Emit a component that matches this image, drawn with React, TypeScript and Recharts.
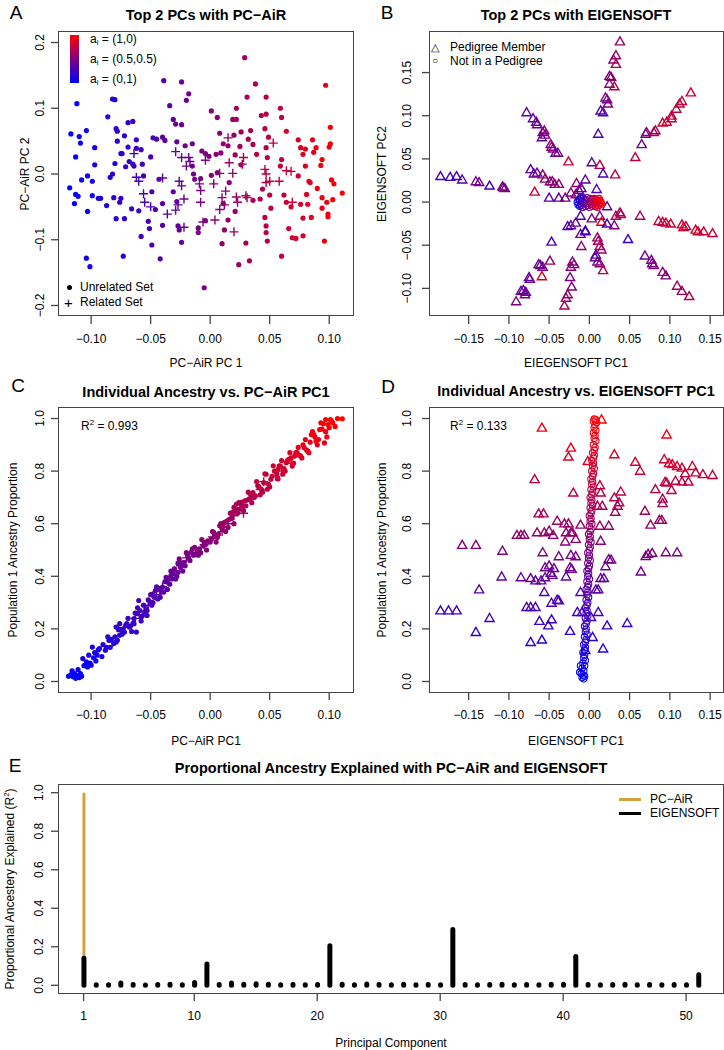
import React from "react";
import { ScatterChart, Scatter, XAxis, YAxis, BarChart, Bar } from "recharts";

const FONT = "'Liberation Sans', Arial, Helvetica, sans-serif";
const AXIS = "#444";

// ---------- panel A : PC-AiR PC1 vs PC2 ----------
const A_X_TICKS = [-0.1, -0.05, 0, 0.05, 0.1];
const A_Y_TICKS = [-0.2, -0.1, 0, 0.1, 0.2];
const A_UNRELATED = [
  [-0.118,-0.021],[-0.117,0.061],[-0.112,0.107],[-0.113,0.026],[-0.113,-0.031],[-0.111,-0.034],[-0.110,0.057],[-0.109,0.047],
  [-0.108,-0.009],[-0.114,-0.045],[-0.104,0.066],[-0.103,-0.003],[-0.103,-0.057],[-0.104,-0.128],[-0.101,-0.141],[-0.099,-0.011],
  [-0.097,0.040],[-0.097,0.014],[-0.099,-0.033],[-0.094,-0.037],[-0.092,-0.037],[-0.087,-0.048],[-0.086,0.087],[-0.084,-0.005],
  [-0.082,0.000],[-0.082,0.114],[-0.080,0.113],[-0.081,-0.036],[-0.080,0.016],[-0.079,0.069],[-0.078,0.065],[-0.079,-0.068],
  [-0.078,0.050],[-0.076,-0.043],[-0.075,0.031],[-0.075,-0.037],[-0.074,0.031],[-0.073,-0.125],[-0.072,0.058],[-0.072,-0.068],
  [-0.071,0.011],[-0.069,0.078],[-0.069,0.041],[-0.068,0.019],[-0.065,0.080],[-0.066,-0.053],[-0.065,0.015],[-0.064,0.012],
  [-0.062,0.052],[-0.062,0.039],[-0.060,-0.056],[-0.058,-0.095],[-0.058,0.037],[-0.057,0.015],[-0.056,-0.003],[-0.050,0.026],
  [-0.049,-0.027],[-0.052,-0.072],[-0.051,-0.083],[-0.049,-0.108],[-0.048,0.055],[-0.046,-0.054],[-0.045,0.053],[-0.043,-0.008],
  [-0.040,-0.045],[-0.042,-0.129],[-0.040,-0.078],[-0.040,0.056],[-0.039,0.142],[-0.038,0.051],[-0.034,0.104],[-0.031,0.083],
  [-0.029,0.076],[-0.028,0.049],[-0.028,-0.042],[-0.031,-0.027],[-0.027,-0.079],[-0.026,-0.085],[-0.024,-0.104],[-0.024,0.140],
  [-0.024,0.075],[-0.021,0.043],[-0.020,0.112],[-0.018,0.122],[-0.015,0.046],[-0.015,0.012],[-0.014,0.000],[-0.013,-0.008],
  [-0.010,-0.082],[-0.010,-0.089],[-0.008,-0.007],[-0.007,0.035],[-0.005,-0.173],[-0.004,0.031],[-0.004,-0.071],[-0.001,0.027],
  [0.001,0.096],[0.001,-0.002],[0.005,0.030],[0.006,0.086],[0.006,0.002],[0.008,0.062],[0.009,0.032],[0.011,0.046],
  [0.011,-0.045],[0.012,-0.085],[0.010,-0.106],[0.015,0.043],[0.016,-0.013],[0.015,-0.070],[0.019,0.083],[0.020,0.059],
  [0.021,0.029],[0.021,-0.057],[0.022,0.100],[0.022,0.083],[0.024,-0.138],[0.025,0.042],[0.026,0.014],[0.026,0.064],
  [0.030,-0.105],[0.029,0.177],[0.031,0.117],[0.032,0.053],[0.033,-0.132],[0.034,0.066],[0.036,0.045],[0.036,-0.040],
  [0.038,0.137],[0.039,0.030],[0.042,-0.038],[0.043,0.089],[0.046,0.069],[0.047,0.117],[0.047,0.091],[0.047,0.040],
  [0.048,0.025],[0.049,0.056],[0.044,-0.023],[0.046,-0.066],[0.047,-0.079],[0.047,-0.089],[0.048,-0.102],[0.050,-0.032],
  [0.051,-0.052],[0.059,0.100],[0.060,0.086],[0.060,-0.125],[0.059,0.012],[0.060,0.022],[0.062,-0.032],[0.064,0.065],
  [0.066,-0.083],[0.064,-0.043],[0.068,-0.050],[0.069,-0.097],[0.072,-0.098],[0.074,0.052],[0.074,-0.003],[0.076,0.040],
  [0.076,-0.046],[0.078,-0.067],[0.078,0.030],[0.078,-0.094],[0.080,0.038],[0.080,0.012],[0.081,-0.031],[0.082,-0.046],
  [0.083,-0.011],[0.084,-0.013],[0.085,-0.066],[0.086,0.052],[0.087,0.033],[0.089,0.040],[0.090,-0.022],[0.093,0.013],
  [0.094,-0.052],[0.094,-0.036],[0.094,0.022],[0.096,-0.102],[0.097,0.135],[0.098,-0.043],[0.099,-0.061],[0.099,-0.065],
  [0.100,0.041],[0.101,0.071],[0.101,0.046],[0.102,-0.009],[0.103,-0.039],[0.104,-0.015],[0.111,-0.029],
];
const A_RELATED = [
  [-0.064,0.031],[-0.062,-0.005],[-0.060,-0.011],[-0.056,-0.030],[-0.055,-0.043],[-0.050,-0.050],[-0.040,-0.006],[-0.036,-0.061],
  [-0.029,0.034],[-0.029,-0.055],[-0.027,-0.047],[-0.026,-0.011],[-0.024,-0.018],[-0.022,-0.038],[-0.022,-0.081],[-0.024,0.025],
  [-0.020,0.012],[-0.018,0.025],[-0.017,0.019],[-0.009,-0.015],[-0.008,-0.025],[-0.008,-0.043],[-0.006,-0.073],[-0.004,0.021],
  [0.003,-0.015],[0.004,-0.070],[0.008,0.001],[0.008,-0.054],[0.010,-0.036],[0.012,-0.047],[0.013,-0.026],[0.015,0.055],
  [0.016,0.017],[0.019,0.001],[0.020,-0.088],[0.022,-0.035],[0.023,-0.043],[0.027,0.015],[0.028,0.025],[0.030,-0.033],
  [0.031,-0.036],[0.046,0.007],[0.047,0.000],[0.047,-0.013],[0.050,-0.011],[0.053,0.047],[0.058,-0.011],[0.064,0.005],
  [0.068,0.004],[0.069,-0.043],
];

// ---------- panel B : EIGENSOFT PC1 vs PC2 (pc1, pc2, ancestry) ----------
const B_X_TICKS = [-0.15, -0.1, -0.05, 0, 0.05, 0.1, 0.15];
const B_Y_TICKS = [-0.1, -0.05, 0, 0.05, 0.1, 0.15];
const B_PEDIGREE = [
  [-0.185,0.030,0.27],[-0.173,0.029,0.27],[-0.165,0.030,0.27],[-0.158,0.026,0.35],[-0.141,0.024,0.45],[-0.137,0.023,0.45],
  [-0.124,0.019,0.24],[-0.108,0.018,0.5],[-0.107,0.017,0.5],[-0.105,0.016,0.45],
  [-0.078,0.104,0.35],[-0.070,0.097,0.35],[-0.066,0.093,0.45],[-0.065,0.090,0.4],[-0.058,0.081,0.5],[-0.056,0.083,0.55],
  [-0.059,0.075,0.35],[-0.055,0.078,0.5],[-0.048,0.067,0.5],[-0.047,0.064,0.55],[-0.045,0.062,0.5],[-0.042,0.057,0.4],
  [-0.039,0.057,0.45],
  [-0.073,0.038,0.35],[-0.069,0.033,0.4],[-0.065,0.034,0.45],[-0.058,0.032,0.55],[-0.055,0.027,0.6],[-0.049,0.024,0.55],
  [-0.046,0.024,0.5],[-0.043,0.021,0.6],[-0.038,0.021,0.55],[-0.068,0.012,0.8],[-0.050,0.005,0.35],[-0.038,0.005,0.4],
  [-0.030,0.005,0.45],[-0.026,0.047,0.8],[-0.023,0.011,0.55],[-0.017,0.009,0.6],[-0.016,0.022,0.6],[-0.013,0.014,0.5],
  [-0.005,0.026,0.35],[-0.010,0.016,0.35],
  [0.003,0.046,0.3],[0.013,0.043,0.7],[0.011,0.079,0.3],[0.017,0.033,0.3],[0.009,0.015,0.3],[0.032,0.032,0.75],
  [0.038,0.186,0.6],[0.033,0.170,0.6],[0.030,0.165,0.55],[0.033,0.160,0.65],[0.025,0.146,0.5],[0.027,0.145,0.55],
  [0.025,0.137,0.5],[0.031,0.134,0.7],[0.020,0.121,0.45],[0.022,0.119,0.5],[0.023,0.114,0.5],[0.014,0.106,0.3],[0.017,0.104,0.35],
  [0.126,0.127,0.8],[0.115,0.117,0.8],[0.112,0.114,0.78],[0.108,0.108,0.75],[0.102,0.100,0.75],[0.102,0.097,0.75],
  [0.096,0.093,0.8],[0.091,0.092,0.8],[0.082,0.083,0.65],[0.080,0.081,0.7],[0.071,0.081,0.55],[0.070,0.079,0.5],
  [0.065,0.067,0.45],[0.057,0.052,0.75],
  [0.063,-0.016,0.65],[0.086,-0.022,0.75],[0.091,-0.023,0.75],[0.095,-0.024,0.78],[0.101,-0.025,0.8],[0.115,-0.026,0.8],
  [0.117,-0.029,0.82],[0.120,-0.028,0.78],[0.132,-0.032,0.8],[0.135,-0.034,0.82],[0.142,-0.034,0.8],[0.153,-0.036,0.8],
  [0.038,-0.012,0.65],[0.039,-0.014,0.7],[0.033,-0.016,0.65],
  [0.069,-0.062,0.4],[0.077,-0.067,0.5],[0.078,-0.071,0.45],[0.080,-0.073,0.5],[0.091,-0.081,0.55],[0.095,-0.085,0.5],
  [0.109,-0.097,0.6],[0.115,-0.103,0.65],[0.124,-0.109,0.7],[0.048,-0.043,0.22],[0.022,-0.005,0.3],[0.013,-0.016,0.45],
  [0.015,-0.023,0.9],[0.031,-0.027,0.55],[0.022,-0.025,0.3],
  [0.010,-0.041,0.6],[0.011,-0.045,0.65],[0.013,-0.051,0.7],[0.015,-0.055,0.6],[0.008,-0.061,0.35],[0.007,-0.064,0.35],
  [0.010,-0.069,0.45],[0.013,-0.071,0.55],[0.017,-0.079,0.7],[0.003,-0.019,0.55],[-0.011,-0.037,0.4],[-0.005,-0.033,0.3],
  [-0.021,-0.069,0.5],[-0.019,-0.072,0.55],[-0.023,-0.075,0.55],[-0.024,-0.087,0.5],[-0.022,-0.098,0.5],[-0.027,-0.107,0.6],
  [-0.029,-0.111,0.6],[-0.031,-0.120,0.7],
  [-0.027,-0.028,0.3],[-0.023,-0.027,0.35],[-0.017,-0.024,0.45],[-0.011,-0.016,0.3],[-0.005,-0.034,0.25],[-0.047,-0.046,0.3],
  [-0.049,-0.068,0.55],[-0.061,-0.073,0.5],[-0.063,-0.072,0.35],[-0.058,-0.075,0.45],[-0.059,-0.086,0.85],[-0.075,-0.087,0.4],
  [-0.074,-0.089,0.45],[-0.082,-0.102,0.35],[-0.085,-0.103,0.4],[-0.079,-0.104,0.4],[-0.080,-0.107,0.45],[-0.091,-0.115,0.5],
  [-0.010,-0.051,0.55],
];
const B_NOT_PEDIGREE = [
  [-0.015,0.000,0.02],[-0.014,-0.003,0.05],[-0.013,0.003,0.08],[-0.012,-0.005,0.1],[-0.012,0.002,0.12],[-0.011,-0.002,0.15],
  [-0.010,0.004,0.18],[-0.010,-0.004,0.2],[-0.009,0.001,0.22],[-0.008,-0.006,0.25],[-0.008,0.005,0.28],[-0.007,-0.001,0.3],
  [-0.006,0.003,0.33],[-0.005,-0.005,0.36],[-0.005,0.002,0.38],[-0.004,-0.002,0.4],[-0.003,0.005,0.43],[-0.002,-0.004,0.46],
  [-0.001,0.001,0.5],[0.000,-0.006,0.52],[0.001,0.004,0.55],[0.002,-0.002,0.58],[0.003,0.003,0.6],[0.004,-0.005,0.63],
  [0.004,0.001,0.65],[0.005,-0.003,0.68],[0.006,0.004,0.7],[0.007,-0.001,0.73],[0.008,-0.005,0.76],[0.008,0.003,0.78],
  [0.009,-0.002,0.8],[0.010,0.002,0.83],[0.011,-0.004,0.86],[0.011,0.001,0.88],[0.012,-0.002,0.9],[0.013,0.002,0.93],
  [0.013,-0.003,0.95],[0.014,0.000,0.98],[0.015,-0.001,1.0],[0.012,0.004,0.92],[0.010,-0.006,0.84],[-0.011,0.005,0.16],
];

// ---------- panel C : ancestry vs PC-AiR PC1 ----------
const C_X_TICKS = [-0.1, -0.05, 0, 0.05, 0.1];
const C_Y_TICKS = [0, 0.2, 0.4, 0.6, 0.8, 1.0];
const C_UNRELATED = [
  [-0.119,0.02],[-0.117,0.025],[-0.115,0.018],[-0.114,0.03],[-0.113,0.012],[-0.112,0.022],[-0.111,0.045],[-0.110,0.015],
  [-0.108,0.02],[-0.107,0.087],[-0.106,0.06],[-0.105,0.062],[-0.104,0.075],[-0.103,0.055],[-0.101,0.07],[-0.100,0.062],
  [-0.099,0.131],[-0.098,0.09],[-0.097,0.11],[-0.096,0.078],[-0.093,0.125],[-0.088,0.119],[-0.085,0.157],[-0.081,0.144],
  [-0.078,0.157],[-0.079,0.207],[-0.076,0.176],[-0.072,0.188],[-0.071,0.213],[-0.068,0.207],[-0.065,0.22],[-0.064,0.239],
  [-0.062,0.188],[-0.060,0.308],[-0.061,0.258],[-0.058,0.245],[-0.055,0.264],[-0.054,0.277],[-0.053,0.251],[-0.050,0.302],
  [-0.048,0.333],[-0.046,0.346],[-0.044,0.314],[-0.041,0.340],[-0.040,0.359],[-0.037,0.396],[-0.036,0.378],[-0.033,0.403],
  [-0.032,0.39],[-0.030,0.428],[-0.027,0.415],[-0.026,0.466],[-0.025,0.434],[-0.022,0.453],[-0.019,0.479],[-0.016,0.491],
  [-0.015,0.504],[-0.012,0.485],[-0.009,0.504],[-0.006,0.516],[-0.005,0.529],[-0.002,0.535],[0.001,0.542],[0.003,0.567],
  [0.006,0.548],[0.008,0.592],[0.010,0.580],[0.012,0.605],[0.015,0.586],[0.016,0.617],[0.019,0.643],[0.020,0.662],
  [0.022,0.674],[0.024,0.655],[0.026,0.681],[0.029,0.687],[0.030,0.668],[0.033,0.693],[0.036,0.718],[0.038,0.706],
  [0.040,0.744],[0.043,0.731],[0.045,0.756],[0.047,0.788],[0.048,0.731],[0.051,0.769],[0.054,0.8],[0.057,0.807],
  [0.059,0.819],[0.061,0.788],[0.064,0.832],[0.066,0.845],[0.069,0.819],[0.071,0.857],[0.073,0.87],[0.076,0.857],
  [0.079,0.889],[0.082,0.876],[0.085,0.939],[0.087,0.939],[0.089,0.914],[0.092,0.958],[0.093,0.984],[0.096,0.907],
  [0.097,0.996],[0.099,0.977],[0.100,0.965],[0.101,0.996],[0.103,0.984],[0.111,0.999],
  [-0.095,0.1],[-0.09,0.14],[-0.087,0.13],[-0.083,0.16],[-0.08,0.17],[-0.077,0.2],[-0.074,0.18],[-0.07,0.22],
  [-0.067,0.21],[-0.063,0.26],[-0.059,0.27],[-0.057,0.25],[-0.052,0.31],[-0.049,0.29],[-0.047,0.32],[-0.043,0.35],
  [-0.039,0.34],[-0.035,0.39],[-0.034,0.37],[-0.031,0.41],[-0.028,0.4],[-0.024,0.45],[-0.021,0.44],[-0.018,0.47],
  [-0.014,0.48],[-0.011,0.5],[-0.008,0.49],[-0.004,0.52],[0.0,0.53],[0.004,0.55],[0.007,0.56],[0.011,0.59],
  [0.014,0.61],[0.018,0.62],[0.021,0.65],[0.023,0.64],[0.027,0.67],[0.031,0.69],[0.034,0.71],[0.037,0.7],
  [0.041,0.74],[0.044,0.72],[0.049,0.75],[0.052,0.78],[0.056,0.79],[0.058,0.82],[0.062,0.81],[0.065,0.84],
  [0.068,0.85],[0.072,0.87],[0.075,0.86],[0.078,0.9],[0.081,0.88],[0.084,0.91],[0.088,0.93],[0.091,0.92],
  [0.094,0.96],[0.097,0.95],[0.102,0.99],[0.105,0.97],[0.107,1.0],
  [-0.116,0.04],[-0.109,0.03],[-0.102,0.1],[-0.094,0.12],[-0.091,0.095],[-0.086,0.17],[-0.084,0.13],[-0.079,0.15],
  [-0.076,0.22],[-0.073,0.2],[-0.069,0.24],[-0.066,0.19],[-0.064,0.22],[-0.061,0.28],[-0.058,0.23],[-0.056,0.29],
  [-0.053,0.27],[-0.05,0.33],[-0.048,0.3],[-0.045,0.36],[-0.042,0.32],[-0.038,0.38],[-0.036,0.35],[-0.033,0.42],
  [-0.029,0.39],[-0.027,0.45],[-0.023,0.42],[-0.02,0.49],[-0.017,0.46],[-0.013,0.51],[-0.01,0.48],[-0.007,0.54],
  [-0.003,0.5],[0.002,0.57],[0.005,0.53],[0.009,0.6],[0.013,0.57],[0.017,0.64],[0.02,0.6],[0.024,0.68],
  [0.028,0.65],[0.032,0.72],[0.035,0.68],[0.039,0.76],[0.042,0.71],[0.046,0.79],[0.05,0.74],[0.053,0.82],
  [0.057,0.77],[0.06,0.84],[0.063,0.8],[0.067,0.87],[0.07,0.83],[0.074,0.89],[0.077,0.85],[0.08,0.92],
  [0.083,0.87],[0.086,0.95],[0.09,0.9],[0.095,0.98],[0.098,0.93],
];
const C_RELATED = [
  [-0.082,0.15],[-0.075,0.19],[-0.063,0.24],[-0.052,0.29],[-0.045,0.33],[-0.040,0.36],[-0.030,0.42],[-0.025,0.44],
  [-0.020,0.47],[-0.012,0.49],[-0.005,0.52],[0.002,0.55],[0.010,0.57],[0.015,0.6],[0.020,0.63],[0.025,0.66],
  [0.028,0.64],[0.035,0.70],[0.042,0.73],[0.045,0.76],[0.055,0.78],[0.060,0.80],[0.068,0.83],
];

// ---------- panel D : ancestry vs EIGENSOFT PC1 ----------
const D_X_TICKS = [-0.15, -0.1, -0.05, 0, 0.05, 0.1, 0.15];
const D_Y_TICKS = [0, 0.2, 0.4, 0.6, 0.8, 1.0];
const D_PEDIGREE = [
  [-0.059,0.965],[-0.023,0.889],[-0.026,0.855],[-0.002,0.838],[0.031,0.864],[-0.068,0.769],[-0.020,0.718],[0.015,0.996],
  [0.096,0.939],[0.057,0.835],[0.063,0.801],[0.093,0.845],[0.099,0.830],[0.103,0.826],[0.109,0.819],[0.115,0.813],
  [0.128,0.819],[0.119,0.792],[0.132,0.795],[0.141,0.788],[0.153,0.785],[0.107,0.763],[0.115,0.760],[0.123,0.760],
  [0.094,0.759],[0.096,0.756],[0.082,0.731],[0.102,0.728],[0.091,0.695],[0.091,0.678],[0.069,0.649],[0.076,0.596],
  [0.087,0.614],[0.090,0.614],[0.064,0.418],[0.070,0.477],[0.073,0.485],[0.078,0.489],[0.095,0.491],[0.109,0.491],
  [0.013,0.746],[0.014,0.718],[0.039,0.722],[0.031,0.700],[0.037,0.681],[0.035,0.668],[0.032,0.645],[0.010,0.668],
  [0.016,0.668],[0.013,0.592],[0.024,0.592],[0.014,0.535],[0.024,0.465],[0.027,0.463],[0.020,0.438],[0.014,0.393],
  [0.018,0.393],[0.008,0.350],[0.011,0.350],[-0.011,0.340],[0.011,0.264],[0.002,0.245],[0.022,0.213],[0.047,0.222],
  [0.004,0.169],[0.017,0.125],[-0.005,0.119],[-0.015,0.264],[-0.024,0.192],[-0.047,0.236],[-0.051,0.213],[-0.062,0.230],
  [-0.059,0.159],[-0.073,0.150],[-0.078,0.283],[-0.073,0.283],[-0.067,0.283],[-0.056,0.340],[-0.060,0.384],[-0.073,0.393],
  [-0.067,0.384],[-0.085,0.396],[-0.109,0.399],[-0.124,0.241],[-0.141,0.188],[-0.137,0.350],[-0.141,0.519],[-0.158,0.519],
  [-0.185,0.270],[-0.175,0.270],[-0.165,0.270],[-0.108,0.497],[-0.090,0.557],[-0.085,0.557],[-0.081,0.557],[-0.065,0.567],
  [-0.056,0.567],[-0.050,0.573],[-0.045,0.557],[-0.063,0.639],[-0.057,0.639],[-0.040,0.611],[-0.031,0.601],[-0.026,0.601],
  [-0.029,0.567],[-0.023,0.567],[-0.021,0.567],[-0.017,0.542],[-0.011,0.596],[-0.030,0.532],[-0.058,0.491],[-0.038,0.476],
  [-0.023,0.481],[-0.017,0.476],[-0.055,0.434],[-0.050,0.441],[-0.044,0.431],[-0.048,0.413],[-0.046,0.405],[-0.055,0.396],
  [-0.024,0.434],[-0.022,0.428],[-0.040,0.311],[-0.038,0.308],[-0.047,0.299],[-0.029,0.399],[-0.009,0.264],
];
const D_NOT_PEDIGREE = [
  [0.006,0.998],[0.008,0.995],[0.005,0.99],[0.009,0.985],[0.007,0.975],[0.006,0.965],[0.008,0.955],[0.005,0.945],
  [0.007,0.935],[0.006,0.925],[0.008,0.915],[0.005,0.9],[0.007,0.89],[0.006,0.88],[0.004,0.87],[0.006,0.86],
  [0.005,0.85],[0.003,0.84],[0.005,0.83],[0.004,0.82],[0.006,0.81],[0.003,0.8],[0.005,0.79],[0.004,0.78],
  [0.002,0.77],[0.004,0.76],[0.003,0.75],[0.005,0.74],[0.002,0.73],[0.004,0.72],[0.003,0.71],[0.001,0.70],
  [0.003,0.69],[0.002,0.68],[0.004,0.67],[0.001,0.66],[0.003,0.65],[0.002,0.64],[0.000,0.63],[0.002,0.62],
  [0.001,0.61],[0.003,0.60],[0.000,0.59],[0.002,0.58],[0.001,0.57],[-0.001,0.56],[0.001,0.55],[0.000,0.54],
  [0.002,0.53],[-0.001,0.52],[0.001,0.51],[0.000,0.50],[-0.002,0.49],[0.000,0.48],[-0.001,0.47],[0.001,0.46],
  [-0.002,0.45],[0.000,0.44],[-0.001,0.43],[-0.003,0.42],[-0.001,0.41],[-0.002,0.40],[0.000,0.39],[-0.003,0.38],
  [-0.001,0.37],[-0.002,0.36],[-0.004,0.35],[-0.002,0.34],[-0.003,0.33],[-0.001,0.32],[-0.004,0.31],[-0.002,0.30],
  [-0.003,0.29],[-0.005,0.28],[-0.003,0.27],[-0.004,0.26],[-0.002,0.25],[-0.005,0.24],[-0.003,0.23],[-0.004,0.22],
  [-0.006,0.21],[-0.004,0.20],[-0.005,0.19],[-0.003,0.18],[-0.006,0.17],[-0.004,0.16],[-0.005,0.15],[-0.007,0.14],
  [-0.005,0.13],[-0.006,0.12],[-0.008,0.11],[-0.006,0.10],[-0.007,0.09],[-0.005,0.08],[-0.008,0.07],[-0.006,0.06],
  [-0.009,0.05],[-0.007,0.04],[-0.010,0.03],[-0.008,0.025],[-0.006,0.02],[-0.009,0.015],[-0.007,0.01],[-0.012,0.035],
  [-0.011,0.06],
];

// ---------- panel E : R^2 per principal component ----------
const E_PC = [1,2,3,4,5,6,7,8,9,10,11,12,13,14,15,16,17,18,19,20,21,22,23,24,25,26,27,28,29,30,31,32,33,34,35,36,37,38,39,40,41,42,43,44,45,46,47,48,49,50,51];
const E_PCAIR = [0.993,0.002,0.001,0.003,0.001,0.002,0.001,0.002,0.001,0.002,0.003,0.001,0.002,0.001,0.002,0.001,0.002,0.001,0.001,0.002,0.003,0.001,0.002,0.001,0.002,0.001,0.002,0.001,0.001,0.002,0.003,0.001,0.002,0.001,0.002,0.001,0.001,0.002,0.001,0.002,0.003,0.001,0.002,0.001,0.002,0.001,0.001,0.002,0.001,0.002,0.002];
const E_EIGEN = [0.14,0.003,0.003,0.012,0.004,0.002,0.004,0.006,0.003,0.014,0.11,0.004,0.012,0.005,0.008,0.006,0.003,0.004,0.003,0.004,0.205,0.005,0.003,0.007,0.004,0.003,0.006,0.003,0.004,0.003,0.29,0.004,0.003,0.004,0.006,0.003,0.004,0.003,0.005,0.006,0.15,0.004,0.003,0.004,0.005,0.003,0.004,0.003,0.004,0.003,0.055];
const E_X_TICKS = [1, 10, 20, 30, 40, 50];
const E_Y_TICKS = [0, 0.2, 0.4, 0.6, 0.8, 1.0];

const GOLD = "#D4A23A";

const ramp = (a: number) => {
  const t = Math.max(0, Math.min(1, a));
  return `rgb(${Math.round(255 * t)},0,${Math.round(255 * (1 - t))})`;
};
const minus = (s: string) => s.replace("-", "\u2212");
const f2 = (v: number) => minus(v.toFixed(2));
const f1 = (v: number) => minus(v.toFixed(1));

const YTick = (fmt: (v: number) => string) => (p: any) => (
  <text x={p.x} y={p.y} transform={`rotate(-90 ${p.x} ${p.y})`} textAnchor="middle" fontSize={12} fill="#000" fontFamily={FONT}>
    {fmt(p.payload.value)}
  </text>
);
const XTick = (fmt: (v: number) => string) => (p: any) => (
  <text x={p.x} y={p.y} dy="0.71em" textAnchor="middle" fontSize={12} fill="#000" fontFamily={FONT}>
    {fmt(p.payload.value)}
  </text>
);

// marker shapes (R pch 19, 3, 2, 1)
const dotShape = (colorOf: (p: any) => string) => (p: any) => <circle cx={p.cx} cy={p.cy} r={2.6} fill={colorOf(p.payload)} />;
const plusShape = (colorOf: (p: any) => string) => (p: any) => (
  <path d={`M${p.cx - 4.5},${p.cy}H${p.cx + 4.5}M${p.cx},${p.cy - 4.5}V${p.cy + 4.5}`} stroke={colorOf(p.payload)} strokeWidth={1.4} />
);
const triShape = (colorOf: (p: any) => string) => (p: any) => (
  <path d={`M${p.cx},${p.cy - 4.6}L${p.cx + 4.6},${p.cy + 3.4}L${p.cx - 4.6},${p.cy + 3.4}Z`} fill="none" stroke={colorOf(p.payload)} strokeWidth={1.4} />
);
const ringShape = (colorOf: (p: any) => string) => (p: any) => (
  <circle cx={p.cx} cy={p.cy} r={3.2} fill="none" stroke={colorOf(p.payload)} strokeWidth={1.1} />
);

const colorByPc1 = (d: any) => ramp((d.x + 0.118) / 0.229);
const colorByAnc = (d: any) => ramp(d.a);
const colorByY = (d: any) => ramp(d.y);

const xy = (rows: number[][]) => rows.map(([x, y]) => ({ x, y }));
const xya = (rows: number[][]) => rows.map(([x, y, a]) => ({ x, y, a }));

const T = ({ x, y, children, size = 12, bold = false, rot = false, left = false }: any) => (
  <div
    style={{
      position: "absolute",
      left: x,
      top: y,
      transform: `translate(${left ? "0" : "-50%"},-50%)${rot ? " rotate(-90deg)" : ""}`,
      fontSize: size,
      fontWeight: bold ? 700 : 400,
      whiteSpace: "nowrap",
      lineHeight: 1,
      color: "#000",
    }}
  >
    {children}
  </div>
);

const Box = ({ l, t, r, b }: any) => (
  <div style={{ position: "absolute", left: l - 1, top: t - 1, width: r - l + 2, height: b - t + 2, border: `1.6px solid ${AXIS}`, boxSizing: "border-box" }} />
);

const sub = (s: string) => <sub style={{ fontSize: 8, verticalAlign: "-2px" }}>{s}</sub>;

const ScatterPanel = ({ left, top, yW, tm, xDom, yDom, xTicks, yTicks, xFmt, yFmt, children }: any) => (
  <div style={{ position: "absolute", left, top }}>
    <ScatterChart width={362} height={381} margin={{ top: 32, right: left === 0 ? 9 : 1, bottom: 0, left: 0 }}>
      <XAxis type="number" dataKey="x" domain={xDom} ticks={xTicks} allowDataOverflow height={65} axisLine={false}
        tickLine={{ stroke: AXIS, strokeWidth: 1.3 }} tickSize={8} tickMargin={10} tick={XTick(xFmt)} interval={0} />
      <YAxis type="number" dataKey="y" domain={yDom} ticks={yTicks} allowDataOverflow width={yW} axisLine={false}
        tickLine={{ stroke: AXIS, strokeWidth: 1.3 }} tickSize={8} tickMargin={tm} tick={YTick(yFmt)} interval={0} />
      {children}
    </ScatterChart>
  </div>
);

const EShape = (color: string, w: number) => (p: any) => {
  const cx = p.x + p.width / 2;
  return <line x1={cx} x2={cx} y1={p.y} y2={p.y + p.height} stroke={color} strokeWidth={w} strokeLinecap="round" />;
};

export default function App() {
  const eData = E_PC.map((pc, i) => ({ pc, air: E_PCAIR[i], eig: E_EIGEN[i] }));
  return (
    <div style={{ position: "absolute", left: 0, top: 0, width: 724, height: 1050, fontFamily: FONT, background: "#fff", overflow: "hidden" }}>
      {/* A */}
      <ScatterPanel left={0} top={0} yW={59} tm={7} xDom={[-0.127, 0.12]} yDom={[-0.216, 0.216]} xTicks={A_X_TICKS} yTicks={A_Y_TICKS} xFmt={f2} yFmt={f1}>
        <Scatter data={xy(A_UNRELATED)} shape={dotShape(colorByPc1)} isAnimationActive={false} />
        <Scatter data={xy(A_RELATED)} shape={plusShape(colorByPc1)} isAnimationActive={false} />
      </ScatterPanel>
      {/* B */}
      <ScatterPanel left={362} top={0} yW={68} tm={11} xDom={[-0.198, 0.166]} yDom={[-0.132, 0.197]} xTicks={B_X_TICKS} yTicks={B_Y_TICKS} xFmt={f2} yFmt={f2}>
        <Scatter data={xya(B_PEDIGREE)} shape={triShape(colorByAnc)} isAnimationActive={false} />
        <Scatter data={xya(B_NOT_PEDIGREE)} shape={ringShape(colorByAnc)} isAnimationActive={false} />
      </ScatterPanel>
      {/* C */}
      <ScatterPanel left={0} top={376} yW={59} tm={7} xDom={[-0.127, 0.12]} yDom={[-0.04, 1.04]} xTicks={C_X_TICKS} yTicks={C_Y_TICKS} xFmt={f2} yFmt={f1}>
        <Scatter data={xy(C_UNRELATED)} shape={dotShape(colorByY)} isAnimationActive={false} />
        <Scatter data={xy(C_RELATED)} shape={plusShape(colorByY)} isAnimationActive={false} />
      </ScatterPanel>
      {/* D */}
      <ScatterPanel left={362} top={376} yW={68} tm={11} xDom={[-0.198, 0.166]} yDom={[-0.04, 1.04]} xTicks={D_X_TICKS} yTicks={D_Y_TICKS} xFmt={f2} yFmt={f1}>
        <Scatter data={xy(D_PEDIGREE)} shape={triShape(colorByY)} isAnimationActive={false} />
        <Scatter data={xy(D_NOT_PEDIGREE)} shape={ringShape(colorByY)} isAnimationActive={false} />
      </ScatterPanel>
      {/* E */}
      <div style={{ position: "absolute", left: 0, top: 753 }}>
        <BarChart width={724} height={290} data={eData} margin={{ top: 32, right: 1, bottom: 0, left: 0 }} barGap={-5}>
          <XAxis type="number" dataKey="pc" domain={[-1, 53]} ticks={E_X_TICKS} allowDataOverflow height={50} axisLine={false}
            tickLine={{ stroke: AXIS, strokeWidth: 1.3 }} tickSize={8} tickMargin={10} tick={XTick((v) => String(v))} interval={0} />
          <YAxis type="number" domain={[-0.04, 1.04]} ticks={E_Y_TICKS} allowDataOverflow width={59} axisLine={false}
            tickLine={{ stroke: AXIS, strokeWidth: 1.3 }} tickSize={8} tickMargin={8} tick={YTick(f1)} interval={0} />
          <Bar dataKey="air" barSize={5} shape={EShape(GOLD, 3)} isAnimationActive={false} />
          <Bar dataKey="eig" barSize={5} shape={EShape("#000", 5)} isAnimationActive={false} />
        </BarChart>
      </div>

      <Box l={59} t={32} r={353} b={315} />
      <Box l={430} t={32} r={723} b={315} />
      <Box l={59} t={408} r={353} b={692} />
      <Box l={430} t={408} r={723} b={692} />
      <Box l={59} t={785} r={723} b={993} />

      {/* letters and titles */}
      <T x={16} y={12} size={19}>A</T>
      <T x={387} y={12} size={19}>B</T>
      <T x={18} y={385} size={19}>C</T>
      <T x={388} y={386} size={19}>D</T>
      <T x={15} y={765} size={19}>E</T>
      <T x={206} y={15} size={14.5} bold>Top 2 PCs with PC−AiR</T>
      <T x={576} y={15} size={14.5} bold>Top 2 PCs with EIGENSOFT</T>
      <T x={206} y={392} size={14.5} bold>Individual Ancestry vs. PC−AiR PC1</T>
      <T x={576} y={391} size={14.5} bold>Individual Ancestry vs. EIGENSOFT PC1</T>
      <T x={391} y={768} size={14.5} bold>Proportional Ancestry Explained with PC−AiR and EIGENSOFT</T>

      {/* axis titles */}
      <T x={206} y={363}>PC−AiR PC 1</T>
      <T x={576} y={363}>EIEGENSOFT PC1</T>
      <T x={206} y={741}>PC−AiR PC1</T>
      <T x={576} y={741}>EIGENSOFT PC1</T>
      <T x={391} y={1043}>Principal Component</T>
      <T x={25} y={174} rot>PC−AiR PC 2</T>
      <T x={382} y={174} rot>EIGENSOFT PC2</T>
      <T x={13} y={550} rot>Population 1 Ancestry Proportion</T>
      <T x={382} y={550} rot>Population 1 Ancestry Proportion</T>
      <T x={9} y={889} rot>Proportional Ancestery Explained (R<sup style={{ fontSize: 8 }}>2</sup>)</T>

      {/* panel A legends */}
      <div style={{ position: "absolute", left: 70, top: 35, width: 9, height: 48, background: "linear-gradient(to bottom, rgb(255,0,0), rgb(128,0,128), rgb(0,0,255))" }} />
      <T x={90} y={40} left>a{sub("i")} = (1,0)</T>
      <T x={90} y={60} left>a{sub("i")} = (0.5,0.5)</T>
      <T x={90} y={80} left>a{sub("i")} = (0,1)</T>
      <div style={{ position: "absolute", left: 66.5, top: 284.5, width: 5, height: 5, borderRadius: 3, background: "#000" }} />
      <T x={80} y={287} left>Unrelated Set</T>
      <T x={64} y={302} left size={15}>+</T>
      <T x={80} y={302} left>Related Set</T>

      {/* panel B legend */}
      <T x={431} y={47} left size={11}>△</T>
      <T x={450} y={47} left>Pedigree Member</T>
      <T x={432} y={61} left size={10}>○</T>
      <T x={450} y={61} left>Not in a Pedigree</T>

      {/* R^2 */}
      <T x={81} y={425} left>R<sup style={{ fontSize: 8 }}>2</sup> = 0.993</T>
      <T x={450} y={425} left>R<sup style={{ fontSize: 8 }}>2</sup> = 0.133</T>

      {/* panel E legend */}
      <div style={{ position: "absolute", left: 619, top: 797.5, width: 22, height: 3, background: GOLD }} />
      <T x={650} y={799} left>PC−AiR</T>
      <div style={{ position: "absolute", left: 619, top: 811.5, width: 22, height: 3, background: "#000" }} />
      <T x={650} y={813} left>EIGENSOFT</T>
    </div>
  );
}
